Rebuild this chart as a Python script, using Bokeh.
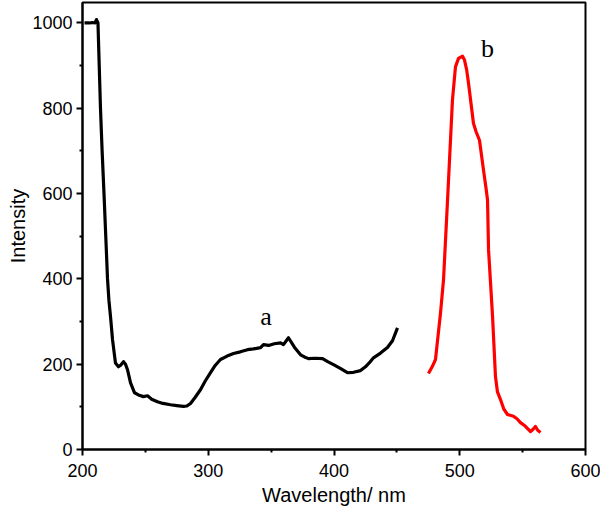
from bokeh.plotting import figure
from bokeh.embed import file_html
from bokeh.resources import INLINE
from bokeh.models import Range1d, Label, FixedTicker

# Curve a (black): wavelength (nm), intensity
a_wl = [201.6, 205.0, 208.0, 210.0, 211.1, 212.3, 213.3, 214.3, 215.6, 217.1, 218.5, 219.9,
        221.0, 222.3, 223.9, 226.2, 228.6, 230.5, 232.6, 234.2, 235.8, 238.2, 241.4, 244.5,
        248.5, 251.7, 255.0, 259.6, 264.0, 270.0, 275.0, 280.3, 283.0, 285.9, 289.5, 293.8,
        297.5, 301.8, 305.5, 309.7, 315.0, 320.1, 325.5, 331.2, 336.0, 341.6, 343.9, 348.0,
        352.5, 357.5, 359.8, 363.8, 368.5, 373.4, 376.5, 379.7, 385.0, 390.9, 395.0, 399.6,
        405.0, 410.7, 415.5, 421.1, 425.0, 428.0, 431.4, 437.0, 442.5, 446.5, 450.5]
a_int = [1000, 1000, 1001, 1000, 1008, 1000, 900, 800, 700, 600, 500, 400,
         350, 311, 257, 203, 194, 198, 206, 200, 187, 156, 133, 128,
         124, 126, 118, 112, 108, 105, 103, 101, 102, 108, 122, 140,
         160, 180, 197, 211, 219, 225, 229, 234, 236, 239, 246, 244,
         248, 250, 246, 262, 240, 222, 217, 213, 214, 213, 206, 199,
         190, 180, 181, 185, 194, 203, 215, 226, 239, 255, 285]

# Curve b (red)
b_wl = [475.1, 478.3, 480.7, 482.5, 484.7, 487.1, 490.3, 494.2, 496.6, 499.0, 502.2, 503.8,
        505.5, 507.0, 510.9, 513.0, 515.7, 518.9, 521.0, 522.1, 522.9, 524.5, 526.1, 528.4,
        530.0, 532.4, 535.0, 538.0, 542.7, 545.5, 548.3, 552.0, 556.3, 558.5, 560.2, 562.0, 564.2]
b_int = [178, 195, 211, 260, 320, 398, 585, 819, 897, 917, 922, 913,
         890, 858, 765, 745, 725, 655, 610, 585, 468, 390, 311, 171,
         135, 117, 95, 82, 78, 72, 63, 55, 42, 48, 54, 45, 40]

x_ticks = [200, 300, 400, 500, 600]
y_ticks = [0, 200, 400, 600, 800, 1000]
x_title = "Wavelength/ nm"
y_title = "Intensity"

p = figure(width=600, height=508, output_backend="svg", toolbar_location=None,
           x_range=Range1d(200, 600), y_range=Range1d(0, 1048),
           min_border_left=82, min_border_right=15, min_border_top=2, min_border_bottom=58)

p.line(a_wl, a_int, line_color="black", line_width=3.2, line_join="round")
p.line(b_wl, b_int, line_color="#ff0000", line_width=3.2, line_join="round")

p.add_layout(Label(x=346, y=311, text="a", text_font="Liberation Serif",
                   text_font_size="26px", text_align="center", text_baseline="alphabetic",
                   text_color="black"))
p.add_layout(Label(x=522, y=941, text="b", text_font="Liberation Serif",
                   text_font_size="26px", text_align="center", text_baseline="alphabetic",
                   text_color="black"))

p.grid.visible = False
p.outline_line_color = "black"
p.outline_line_width = 2
p.background_fill_color = "white"
p.border_fill_color = "white"

for ax in (p.xaxis[0], p.yaxis[0]):
    ax.axis_line_width = 2
    ax.axis_line_color = "black"
    ax.major_tick_line_width = 2
    ax.minor_tick_line_width = 2
    ax.major_tick_in = 0
    ax.major_tick_out = 6
    ax.minor_tick_in = 0
    ax.minor_tick_out = 3
    ax.major_label_text_font = "Liberation Sans"
    ax.major_label_text_font_size = "18px"
    ax.major_label_text_color = "black"
    ax.axis_label_text_font = "Liberation Sans"
    ax.axis_label_text_font_style = "normal"
    ax.axis_label_text_color = "black"

p.xaxis[0].ticker = FixedTicker(ticks=x_ticks, minor_ticks=[250, 350, 450, 550])
p.yaxis[0].ticker = FixedTicker(ticks=y_ticks, minor_ticks=[100, 300, 500, 700, 900])
p.xaxis[0].axis_label = x_title
p.xaxis[0].axis_label_text_font_size = "20px"
p.yaxis[0].axis_label = y_title
p.yaxis[0].axis_label_text_font_size = "20px"
p.xaxis[0].major_label_standoff = 8
p.xaxis[0].axis_label_standoff = 4
p.yaxis[0].major_label_standoff = 4
p.yaxis[0].axis_label_standoff = 0

open("out.html", "w").write(file_html(p, INLINE))
